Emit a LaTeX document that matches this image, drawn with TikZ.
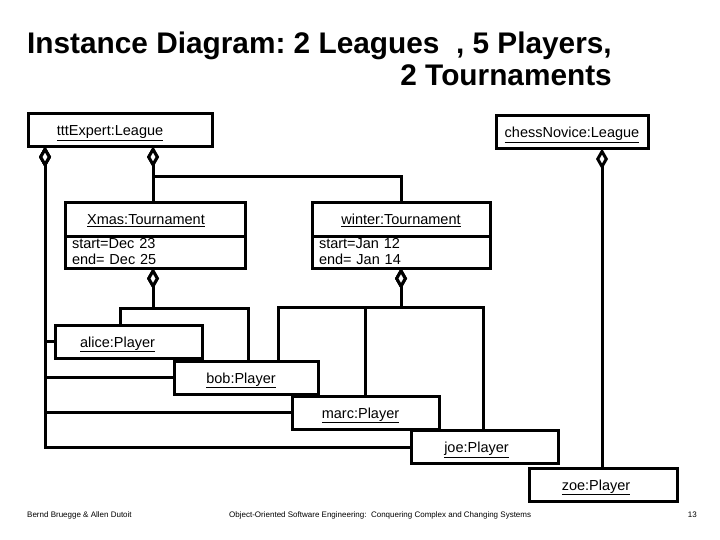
\documentclass[tikz,border=0pt]{standalone}
\usepackage{fontspec}
\setmainfont{Liberation Sans}
\usetikzlibrary{arrows.meta,calc}
\frenchspacing

\begin{document}
\begin{tikzpicture}[x=1pt,y=-1pt,
    obj/.style={draw,line width=3pt,fill=white,inner sep=0pt,outer sep=0pt,
      minimum height=33pt,text height=12pt,text depth=1pt,
      font=\fontsize{14.5}{16}\selectfont},
    lpad/.style={execute at end node={\hspace*{#1}}},
    attr/.style={draw,line width=3pt,fill=white,inner xsep=7pt,inner ysep=0pt,outer sep=0pt,
      minimum height=32pt,align=left,anchor=north,font=\fontsize{14.5}{16}\selectfont},
    agg/.style={line width=3pt,{Diamond[fill=white,length=21pt,width=12pt]}-},
    foot/.style={inner sep=0pt,font=\fontsize{8}{9}\selectfont}]
  \useasboundingbox (0,0) rectangle (720,540);
  % --- Titel ---
  \node[anchor=north east,align=right,inner sep=0pt,font=\bfseries\fontsize{29.8}{32}\selectfont] (title) at (612,32)
    {Instance Diagram: 2 Leagues\ \ , 5 Players,\\2 Tournaments};
  % --- Ligen ---
  \node[obj,lpad=20pt,minimum width=184pt] (ttt) at (120,130) {\underline{tttExpert:League}};
  \node[obj,minimum width=152pt] (chess) at (572,132) {\underline{chessNovice:League}};
  % --- Turniere ---
  \node[obj,lpad=18pt,minimum width=180pt] (xmas) at (155,219.5) {\underline{Xmas:Tournament}};
  \node[attr,text width=166pt] (xmasAttr) at (xmas.south) {start=Dec 23\\end= Dec 25};
  \node[obj,minimum width=178pt] (winter) at (401,219.5) {\underline{winter:Tournament}};
  \node[attr,text width=164pt] (winterAttr) at (winter.south) {start=Jan 12\\end= Jan 14};
  % --- Spieler ---
  \node[obj,lpad=22pt,minimum width=147pt] (alice) at (128.5,341.5) {\underline{alice:Player}};
  \node[obj,lpad=10pt,minimum width=144pt] (bob) at (246,377.5) {\underline{bob:Player}};
  \node[obj,lpad=10pt,minimum width=147pt] (marc) at (365.5,412.5) {\underline{marc:Player}};
  \node[obj,lpad=16pt,minimum width=147pt] (joe) at (484.5,447) {\underline{joe:Player}};
  \node[obj,lpad=14pt,minimum width=148pt] (zoe) at (603,484.5) {\underline{zoe:Player}};
  % --- Aggregationen ---
  \coordinate (tttL) at ([xshift=17pt]ttt.south west);
  \coordinate (tttX) at ([xshift=125pt]ttt.south west);
  \coordinate (chessD) at ([xshift=-46pt]chess.south east);
  \coordinate (xmasD) at ([xshift=-2pt]xmasAttr.south);
  \coordinate (winterD) at (winterAttr.south);
  \draw[agg] (tttL) |- (alice);
  \draw[agg] (tttL) |- (bob);
  \draw[agg] (tttL) |- (marc);
  \draw[agg] (tttL) |- (joe);
  \draw[agg] (tttX) -- (tttX |- xmas.north);
  \draw[agg] (tttX) -- ++(0,30) -| (winter.north);
  \draw[agg] (chessD) -- (chessD |- zoe.north);
  \draw[agg] (xmasD) -- ++(0,40) -| ([xshift=65pt]alice.north west);
  \draw[agg] (xmasD) -- ++(0,40) -| ([xshift=74pt]bob.north west);
  \draw[agg] (winterD) -- ++(0,39) -| ([xshift=104pt]bob.north west);
  \draw[agg] (winterD) -- ++(0,39) -| (marc.north);
  \draw[agg] (winterD) -- ++(0,39) -| ([xshift=72pt]joe.north west);
  % --- Fusszeile ---
  \node[foot,anchor=west] (authors) at (27,515) {Bernd Bruegge \& Allen Dutoit};
  \node[foot,anchor=west] (book) at (229,515) {Object-Oriented Software Engineering:\ \ Conquering Complex and Changing Systems};
  \node[foot,anchor=east] (page) at (697,515) {13};
\end{tikzpicture}
\end{document}
